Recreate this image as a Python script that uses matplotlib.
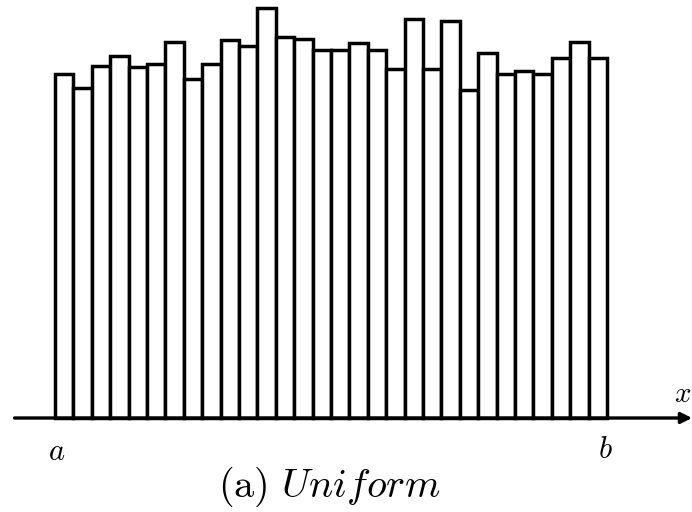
import matplotlib.pyplot as plt
import numpy as np

plt.rcParams['mathtext.fontset'] = 'cm'

# alturas das 30 barras
alturas = [344, 330, 352, 362, 351, 354, 376, 339, 354, 378,
           372, 410, 381, 379, 368, 368, 375, 368, 349, 399,
           349, 397, 328, 365, 344, 347, 344, 360, 376, 360]
rotulo_a = 'a'
rotulo_b = 'b'
rotulo_x = 'x'
legenda = r'$\mathrm{(a)}\ \mathit{Uniform}$'

n = len(alturas)
pos = np.arange(n)

fig = plt.figure(figsize=(6.92, 5.12), dpi=100)
ax = fig.add_axes([0, 0, 1, 1])
ax.set_xlim(-3.49, 34.12)
ax.set_ylim(-94, 418)
ax.axis('off')

ax.bar(pos, alturas, width=1.0, color='white', edgecolor='black', linewidth=2.5)

# eixo x com seta
ax.annotate('', xy=(34.12, 0), xytext=(-2.7, 0),
            arrowprops=dict(arrowstyle='-|>', color='black', lw=2.4,
                            mutation_scale=16, shrinkA=0, shrinkB=0))

ax.text(33.6, 10, '$' + rotulo_x + '$', fontsize=21, ha='center', va='bottom')
ax.text(-0.4, -33, '$' + rotulo_a + '$', fontsize=22, ha='center', va='center')
ax.text(29.4, -31, '$' + rotulo_b + '$', fontsize=22, ha='center', va='center')
ax.text(14.4, -69, legenda, fontsize=29, ha='center', va='center')

fig.savefig('out.png', dpi=100)
